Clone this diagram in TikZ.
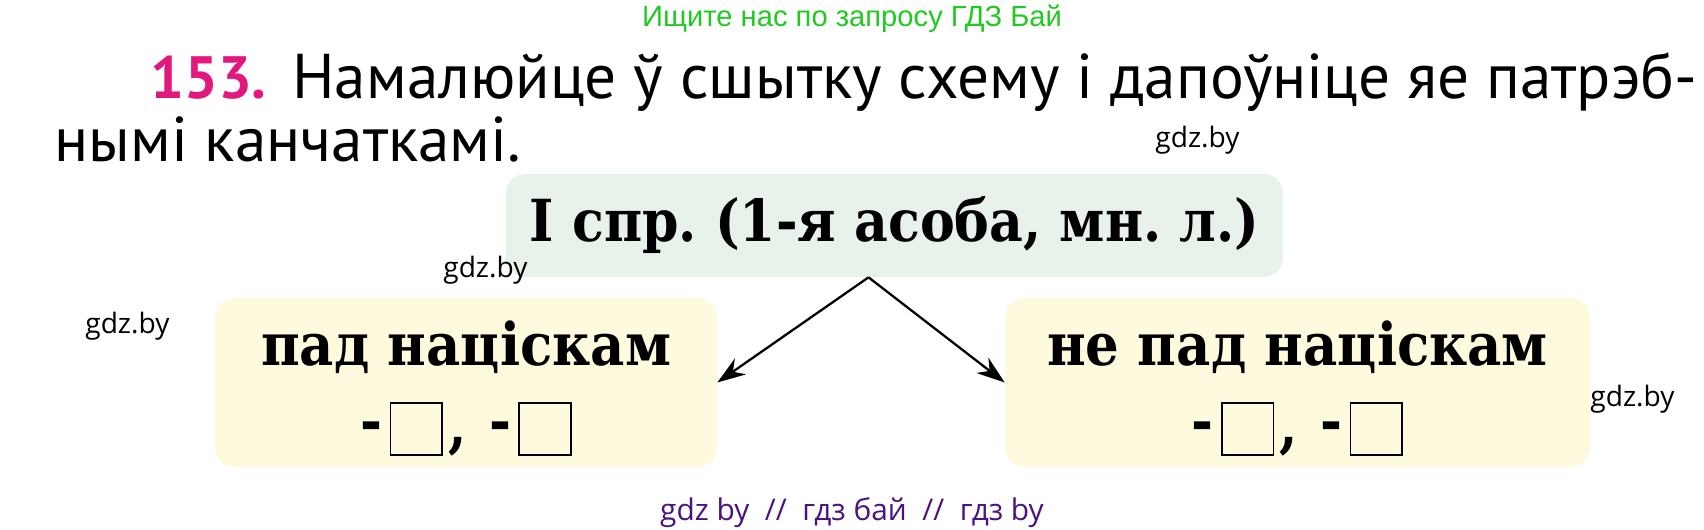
\documentclass[tikz,border=0pt]{standalone}
\usepackage{fontspec}
\setmainfont{DejaVu Serif Condensed}
\newfontfamily\ptsans{PT Sans}
\newfontfamily\libsans{Liberation Sans}
\newfontfamily\opensans{Open Sans}
\usetikzlibrary{arrows.meta,positioning}
\frenchspacing

\definecolor{boxgreen}{HTML}{E8F1EA}
\definecolor{boxyellow}{HTML}{FDFADD}
\definecolor{adgreen}{HTML}{22C922}
\definecolor{numpink}{HTML}{E2187C}
\definecolor{adpurple}{HTML}{4A1380}

% empty square for an ending
\newcommand{\blank}{\raisebox{-4.5pt}{\setlength{\fboxsep}{0pt}\setlength{\fboxrule}{0.9pt}\fbox{\rule{0pt}{29pt}\hspace{28.5pt}}}}
\newcommand{\twoblanks}{\raisebox{3pt}{-}\kern4pt\blank\kern3pt,\kern13pt\raisebox{3pt}{-}\kern4pt\blank}
% lower the ink of a line, keep its size
\newcommand{\down}[2]{\raisebox{-#1}[\height][\depth]{#2}}

\tikzstyle{panel} = [rectangle, rounded corners=11pt, inner sep=0pt, align=center,
    font=\bfseries\fontsize{33.5}{43}\selectfont]
\tikzstyle{head} = [panel, fill=boxgreen, minimum width=15.54cm, minimum height=2.06cm,
    font=\bfseries\fontsize{33}{43}\selectfont]
\tikzstyle{case} = [panel, fill=boxyellow, minimum height=3.38cm]
\tikzstyle{task} = [anchor=base west, inner sep=0pt, font=\ptsans\fontsize{36}{36}\selectfont]
\tikzstyle{wmark} = [anchor=base west, inner sep=0pt, font=\opensans\fontsize{16}{16}\selectfont]
\tikzstyle{line} = [draw, -{Stealth[length=16pt, width=11pt]}, line width=1.3pt]

\begin{document}
\begin{tikzpicture}[x=0.02cm, y=-0.02cm]
    \useasboundingbox (0,0) rectangle (1704,530);

    \node [anchor=base, inner sep=0pt, text=adgreen, font=\libsans\fontsize{16.6}{16.6}\selectfont] (ad) at (852,27) {Ищите нас по запросу ГДЗ Бай};
    \node [task, text=numpink, font=\ptsans\bfseries\fontsize{34}{34}\selectfont] (num) at (150,99) {153.};
    \node [task] (line1) at (292,99) {Намалюйце ў сшытку схему і дапоўніце яе патрэб-};
    \node [task] (line2) at (54,162) {нымі канчаткамі.};

    \node [head] (top) at (894.5,225.5) {І спр. (1-я асоба, мн. л.)};
    \node [case, minimum width=10.04cm] (left) at (466,382.5) {\down{2pt}{пад націскам}\\\down{5pt}{\twoblanks}};
    \node [case, minimum width=11.7cm] (right) at (1297.5,382.5) {\down{2pt}{не пад націскам}\\\down{5pt}{\twoblanks}};

    \path [line] ([xshift=-0.52cm]top.south) -- (left.east);
    \path [line] ([xshift=-0.52cm]top.south) -- (right.west);

    \node [wmark] (wm1) at (1155,148) {gdz.by};
    \node [wmark] (wm2) at (443,277) {gdz.by};
    \node [wmark] (wm3) at (85,334) {gdz.by};
    \node [wmark] (wm4) at (1590,406) {gdz.by};
    \node [anchor=base, inner sep=0pt, text=adpurple, font=\opensans\fontsize{17}{17}\selectfont] (foot) at (852,520) {gdz by \ // \ гдз бай \ // \ гдз by};

\end{tikzpicture}
\end{document}
